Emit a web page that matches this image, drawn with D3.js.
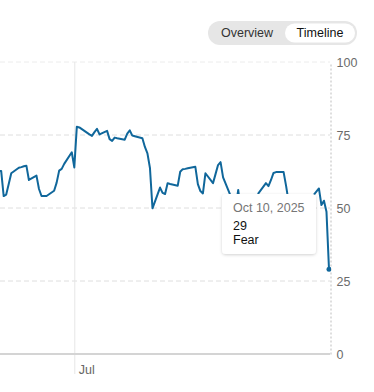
<!DOCTYPE html>
<html>
<head>
<meta charset="utf-8">
<script src="https://cdn.jsdelivr.net/npm/d3@7"></script>
<style>
  body { margin: 0; background: #fff; font-family: "Liberation Sans", Arial, sans-serif; }
  svg { display: block; }
</style>
</head>
<body>
<div id="chart"></div>
<script>
const WIDTH = 374
const HEIGHT = 392

// Fear & Greed index, trading days
const dates = [
  '2025-05-29', '2025-05-30',
  '2025-06-02', '2025-06-03', '2025-06-04', '2025-06-05', '2025-06-06',
  '2025-06-09', '2025-06-10', '2025-06-11', '2025-06-12', '2025-06-13',
  '2025-06-16', '2025-06-17', '2025-06-18', '2025-06-20',
  '2025-06-23', '2025-06-24', '2025-06-25', '2025-06-26', '2025-06-27',
  '2025-06-30', '2025-07-01', '2025-07-02', '2025-07-03',
  '2025-07-07', '2025-07-08', '2025-07-09', '2025-07-10', '2025-07-11',
  '2025-07-14', '2025-07-15', '2025-07-16', '2025-07-17', '2025-07-18',
  '2025-07-21', '2025-07-22', '2025-07-23', '2025-07-24', '2025-07-25',
  '2025-07-28', '2025-07-29', '2025-07-30', '2025-07-31', '2025-08-01',
  '2025-08-04', '2025-08-05', '2025-08-06', '2025-08-07', '2025-08-08',
  '2025-08-11', '2025-08-12', '2025-08-13', '2025-08-14', '2025-08-15',
  '2025-08-18', '2025-08-19', '2025-08-20', '2025-08-21', '2025-08-22',
  '2025-08-25', '2025-08-26', '2025-08-27', '2025-08-28', '2025-08-29',
  '2025-09-02', '2025-09-03', '2025-09-04', '2025-09-05',
  '2025-09-08', '2025-09-09', '2025-09-10', '2025-09-11', '2025-09-12',
  '2025-09-15', '2025-09-16', '2025-09-17', '2025-09-18', '2025-09-19',
  '2025-09-22', '2025-09-23', '2025-09-24', '2025-09-25', '2025-09-26',
  '2025-09-29', '2025-09-30', '2025-10-01', '2025-10-02', '2025-10-03',
  '2025-10-06', '2025-10-07', '2025-10-08', '2025-10-09', '2025-10-10'
]
const values = [
  62, 62.3,
  62.7, 54.1, 54.6, 58.2, 61.9,
  63.8, 64.0, 64.3, 64.5, 59.6,
  61.1, 56.5, 54.1, 54.1,
  55.9, 58.7, 62.8, 63.4, 65.1,
  69.1, 63.9, 77.8, 77.6,
  75.2, 74.7, 76.0, 77.1, 75.2,
  76.4, 73.6, 73.0, 74.1, 73.9,
  73.4, 75.5, 76.6, 74.8, 74.6,
  73.9, 70.9, 68.7, 63.7, 49.9,
  57.0, 55.2, 54.8, 58.5, 58.2,
  57.6, 62.4, 63.3, 63.4, 63.6,
  64.1, 58.2, 55.8, 55.0, 61.9,
  58.5, 61.6, 64.7, 65.7, 60.5,
  52, 50, 56.2, 49,
  50, 52, 53, 51, 55,
  58.5, 57.5, 59.6, 62.0, 62.3,
  62.3, 57.5, 52, 50, 51,
  52, 53, 52, 53, 53.5,
  56.7, 51.0, 52.5, 48.7, 29
]
const yTicks = [0, 25, 50, 75, 100]
const xTicks = ['2025-07-01']
const toggleLabels = ['Overview', 'Timeline']
const tipDate = 'Oct 10, 2025'
const tipValue = '29'
const tipRating = 'Fear'

const parse = d3.utcParse('%Y-%m-%d')
const data = dates.map((d, i) => ({ date: parse(d), value: values[i] }))

const svg = d3.select('#chart')
  .append('svg')
  .attr('width', WIDTH)
  .attr('height', HEIGHT)

const defs = svg.append('defs')
defs.append('clipPath').attr('id', 'plot-clip')
  .append('rect').attr('x', 0).attr('y', 0).attr('width', 331).attr('height', HEIGHT)
const shadow = defs.append('filter').attr('id', 'tip-shadow')
  .attr('x', '-20%').attr('y', '-20%').attr('width', '140%').attr('height', '150%')
shadow.append('feDropShadow')
  .attr('dx', 0).attr('dy', 1).attr('stdDeviation', 1.5)
  .attr('flood-color', '#000').attr('flood-opacity', 0.18)

const xScale = d3.scaleUtc()
  .domain([parse('2025-07-01'), parse('2025-10-10')])
  .range([74.3, 329])

const yScale = d3.scaleLinear()
  .domain([0, 100])
  .range([354, 62])

// horizontal grid
svg.append('g')
  .selectAll('line')
  .data(yTicks.filter(t => t > 0))
  .join('line')
  .attr('x1', 0)
  .attr('x2', 330)
  .attr('y1', d => yScale(d))
  .attr('y2', d => yScale(d))
  .attr('stroke', d => d === 100 ? '#ececec' : '#dedede')
  .attr('stroke-dasharray', '5,3')

// month grid + label
const xAxis = svg.append('g')
  .attr('transform', `translate(0, ${yScale(0)})`)
  .call(d3.axisBottom(xScale)
    .tickValues(xTicks.map(parse))
    .tickFormat(d3.utcFormat('%b'))
    .tickSize(20)
    .tickPadding(-6))
xAxis.select('.domain').remove()
xAxis.selectAll('.tick line')
  .attr('y1', yScale(100) - yScale(0))
  .attr('stroke', '#e6e6e6')
xAxis.selectAll('.tick text')
  .attr('text-anchor', 'start')
  .attr('x', 4)
  .attr('dy', 0)
  .attr('y', 20)
  .attr('fill', '#666')
  .style('font-family', '"Liberation Sans", Arial, sans-serif')
  .style('font-size', '12.5px')

// baseline at 0
svg.append('line')
  .attr('x1', 0).attr('x2', 330)
  .attr('y1', yScale(0)).attr('y2', yScale(0))
  .attr('stroke', '#d4d4d4')
  .attr('stroke-width', 2)

// right axis
const yAxis = svg.append('g')
  .attr('transform', 'translate(330.5, 0)')
  .call(d3.axisRight(yScale).tickValues(yTicks).tickSize(0).tickPadding(6))
yAxis.select('.domain')
  .attr('stroke', '#bdbdbd')
  .attr('stroke-dasharray', '2,2')
yAxis.selectAll('.tick text')
  .attr('fill', '#6b6b6b')
  .style('font-family', '"Liberation Sans", Arial, sans-serif')
  .style('font-size', '12.5px')

// the line
const line = d3.line()
  .x(d => xScale(d.date))
  .y(d => yScale(d.value))

const plot = svg.append('g').attr('clip-path', 'url(#plot-clip)')
plot.append('path')
  .datum(data)
  .attr('fill', 'none')
  .attr('stroke', '#10679b')
  .attr('stroke-width', 2)
  .attr('stroke-linejoin', 'round')
  .attr('d', line)

const last = data[data.length - 1]
plot.append('circle')
  .attr('cx', xScale(last.date))
  .attr('cy', yScale(last.value))
  .attr('r', 2.5)
  .attr('fill', '#10679b')

// tooltip
const tip = svg.append('g').attr('transform', 'translate(222, 194)')
tip.append('rect')
  .attr('width', 94)
  .attr('height', 60)
  .attr('rx', 4)
  .attr('fill', '#fff')
  .attr('filter', 'url(#tip-shadow)')
tip.append('text')
  .attr('x', 11).attr('y', 18)
  .attr('fill', '#767676')
  .style('font-size', '12.5px')
  .text(tipDate)
tip.append('text')
  .attr('x', 11).attr('y', 36)
  .attr('fill', '#111')
  .style('font-size', '12.5px')
  .text(tipValue)
tip.append('text')
  .attr('x', 11).attr('y', 49.5)
  .attr('fill', '#111')
  .style('font-size', '12.5px')
  .text(tipRating)

// overview / timeline toggle
const toggle = svg.append('g')
toggle.append('rect')
  .attr('x', 208).attr('y', 21)
  .attr('width', 149).attr('height', 24)
  .attr('rx', 12)
  .attr('fill', '#e6e6e6')
toggle.append('rect')
  .attr('x', 285).attr('y', 23.5)
  .attr('width', 70).attr('height', 19)
  .attr('rx', 9.5)
  .attr('fill', '#fff')
toggle.selectAll('text')
  .data(toggleLabels)
  .join('text')
  .attr('x', (d, i) => i === 0 ? 247 : 320)
  .attr('y', 37)
  .attr('text-anchor', 'middle')
  .attr('fill', (d, i) => i === 0 ? '#333' : '#111')
  .style('font-size', '12.5px')
  .text(d => d)
</script>
</body>
</html>
